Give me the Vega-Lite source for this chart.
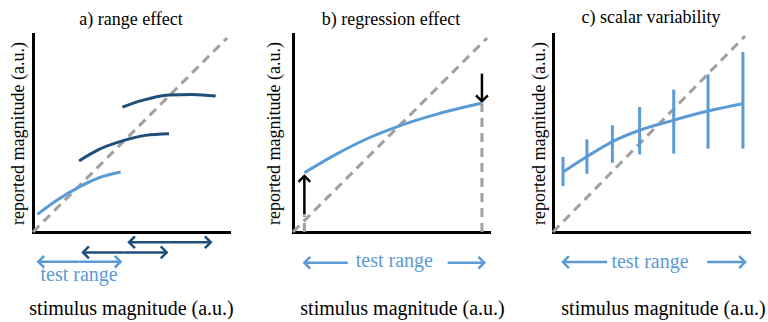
{
  "$schema": "https://vega.github.io/schema/vega-lite/v6.json",
  "padding": {"left": 9, "top": 8, "right": 5, "bottom": 5},
  "background": "white",
  "config": {
    "view": {"stroke": null},
    "font": "Liberation Serif",
    "axis": {"labels": false, "ticks": false, "grid": false, "domainColor": "black", "domainWidth": 3, "domainCap": "square", "titleFont": "Liberation Serif", "titleFontSize": 18, "titleFontWeight": "normal", "titleColor": "black"},
    "axisX": {"titlePadding": 66, "titleFontSize": 20},
    "axisY": {"titlePadding": 6},
    "title": {"font": "Liberation Serif", "fontSize": 18, "fontWeight": "normal", "offset": 3, "color": "black"}
  },
  "bounds": "flush",
  "spacing": 64,
  "hconcat": [
    {
      "width": 196, "height": 198,
      "title": "a) range effect",
      "layer": [
        {
          "data": {"values": [{"x": 0, "y": 0}, {"x": 0.99, "y": 0.98}]},
          "mark": {"type": "line", "color": "#a0a0a0", "strokeWidth": 3, "strokeDash": [9, 6]},
          "encoding": {
            "x": {"field": "x", "type": "quantitative", "scale": {"domain": [0, 1], "nice": false}, "axis": {"title": "stimulus magnitude (a.u.)"}},
            "y": {"field": "y", "type": "quantitative", "scale": {"domain": [0, 1], "nice": false}, "axis": {"title": "reported magnitude (a.u.)"}}
          }
        },
        {
          "data": {"values": [
            {"id": "c1", "c": "light", "x": 0.022, "y": 0.089}, {"id": "c1", "c": "light", "x": 0.116, "y": 0.157}, {"id": "c1", "c": "light", "x": 0.235, "y": 0.227}, {"id": "c1", "c": "light", "x": 0.337, "y": 0.274}, {"id": "c1", "c": "light", "x": 0.447, "y": 0.303},
            {"id": "c2", "c": "dark", "x": 0.235, "y": 0.359}, {"id": "c2", "c": "dark", "x": 0.337, "y": 0.417}, {"id": "c2", "c": "dark", "x": 0.456, "y": 0.460}, {"id": "c2", "c": "dark", "x": 0.575, "y": 0.488}, {"id": "c2", "c": "dark", "x": 0.694, "y": 0.496},
            {"id": "c3", "c": "dark", "x": 0.456, "y": 0.631}, {"id": "c3", "c": "dark", "x": 0.558, "y": 0.665}, {"id": "c3", "c": "dark", "x": 0.694, "y": 0.692}, {"id": "c3", "c": "dark", "x": 0.813, "y": 0.695}, {"id": "c3", "c": "dark", "x": 0.932, "y": 0.687}
          ]},
          "mark": {"type": "line", "strokeWidth": 3, "interpolate": "monotone"},
          "encoding": {
            "x": {"field": "x", "type": "quantitative"},
            "y": {"field": "y", "type": "quantitative"},
            "detail": {"field": "id"},
            "color": {"field": "c", "type": "nominal", "scale": {"domain": ["light", "dark", "black"], "range": ["#5b9bd5", "#1f4e79", "#000000"]}, "legend": null}
          }
        },
        {
          "data": {"values": [
            {"c": "light", "x": 0.237, "x2": 0.027, "y": -0.15, "y2": -0.15, "dir": "left"},
            {"c": "light", "x": 0.237, "x2": 0.447, "y": -0.15, "y2": -0.15, "dir": "right"},
            {"c": "dark", "x": 0.468, "x2": 0.255, "y": -0.103, "y2": -0.103, "dir": "left"},
            {"c": "dark", "x": 0.468, "x2": 0.682, "y": -0.103, "y2": -0.103, "dir": "right"},
            {"c": "dark", "x": 0.698, "x2": 0.49, "y": -0.052, "y2": -0.052, "dir": "left"},
            {"c": "dark", "x": 0.698, "x2": 0.907, "y": -0.052, "y2": -0.052, "dir": "right"}
          ]},
          "layer": [
            {
              "mark": {"type": "rule", "strokeWidth": 2.5},
              "encoding": {
                "x": {"field": "x", "type": "quantitative"}, "x2": {"field": "x2"},
                "y": {"field": "y", "type": "quantitative"}, "y2": {"field": "y2"},
                "color": {"field": "c", "type": "nominal", "scale": {"domain": ["light", "dark", "black"], "range": ["#5b9bd5", "#1f4e79", "#000000"]}, "legend": null}
              }
            },
            {
              "mark": {"type": "point", "filled": false, "strokeWidth": 2.5, "size": 140, "opacity": 1},
              "encoding": {
                "x": {"field": "x2", "type": "quantitative"},
                "y": {"field": "y2", "type": "quantitative"},
                "shape": {"field": "dir", "type": "nominal", "scale": {"domain": ["left", "right", "up", "down"], "range": ["M1,-1L0,0L1,1", "M-1,-1L0,0L-1,1", "M-1,1L0,0L1,1", "M-1,-1L0,0L1,-1"]}, "legend": null},
                "color": {"field": "c", "type": "nominal", "scale": {"domain": ["light", "dark", "black"], "range": ["#5b9bd5", "#1f4e79", "#000000"]}, "legend": null}
              }
            }
          ]
        },
        {
          "data": {"values": [{"x": 0.235, "y": -0.218, "t": "test range"}]},
          "mark": {"type": "text", "fontSize": 20, "color": "#5b9bd5", "font": "Liberation Serif", "baseline": "middle"},
          "encoding": {"x": {"field": "x", "type": "quantitative"}, "y": {"field": "y", "type": "quantitative"}, "text": {"field": "t"}}
        }
      ]
    },
    {
      "width": 196, "height": 198,
      "title": "b) regression effect",
      "layer": [
        {
          "data": {"values": [{"x": 0, "y": 0}, {"x": 0.99, "y": 0.98}]},
          "mark": {"type": "line", "color": "#a0a0a0", "strokeWidth": 3, "strokeDash": [9, 6]},
          "encoding": {
            "x": {"field": "x", "type": "quantitative", "scale": {"domain": [0, 1], "nice": false}, "axis": {"title": "stimulus magnitude (a.u.)", "titleX": 109}},
            "y": {"field": "y", "type": "quantitative", "scale": {"domain": [0, 1], "nice": false}, "axis": {"title": "reported magnitude (a.u.)", "titlePadding": 10}}
          }
        },
        {
          "data": {"values": [{"x": 0.058, "y": 0, "y2": 0.085}, {"x": 0.964, "y": 0, "y2": 0.65}]},
          "mark": {"type": "rule", "color": "#a0a0a0", "strokeWidth": 3, "strokeDash": [9, 6]},
          "encoding": {"x": {"field": "x", "type": "quantitative"}, "y": {"field": "y", "type": "quantitative"}, "y2": {"field": "y2"}}
        },
        {
          "data": {"values": [
            {"x": 0.058, "y": 0.299}, {"x": 0.219, "y": 0.392}, {"x": 0.389, "y": 0.476}, {"x": 0.526, "y": 0.530}, {"x": 0.730, "y": 0.594}, {"x": 0.959, "y": 0.650}
          ]},
          "mark": {"type": "line", "strokeWidth": 3, "interpolate": "monotone", "color": "#5b9bd5"},
          "encoding": {"x": {"field": "x", "type": "quantitative"}, "y": {"field": "y", "type": "quantitative"}}
        },
        {
          "data": {"values": [
            {"c": "black", "x": 0.058, "x2": 0.058, "y": 0.089, "y2": 0.283, "dir": "up"},
            {"c": "black", "x": 0.964, "x2": 0.964, "y": 0.8, "y2": 0.66, "dir": "down"},
            {"c": "light", "x": 0.279, "x2": 0.058, "y": -0.155, "y2": -0.155, "dir": "left"},
            {"c": "light", "x": 0.789, "x2": 0.976, "y": -0.155, "y2": -0.155, "dir": "right"}
          ]},
          "layer": [
            {
              "mark": {"type": "rule", "strokeWidth": 2.5},
              "encoding": {
                "x": {"field": "x", "type": "quantitative"}, "x2": {"field": "x2"},
                "y": {"field": "y", "type": "quantitative"}, "y2": {"field": "y2"},
                "color": {"field": "c", "type": "nominal", "scale": {"domain": ["light", "dark", "black"], "range": ["#5b9bd5", "#1f4e79", "#000000"]}, "legend": null}
              }
            },
            {
              "mark": {"type": "point", "filled": false, "strokeWidth": 2.5, "size": 140, "opacity": 1},
              "encoding": {
                "x": {"field": "x2", "type": "quantitative"},
                "y": {"field": "y2", "type": "quantitative"},
                "shape": {"field": "dir", "type": "nominal", "scale": {"domain": ["left", "right", "up", "down"], "range": ["M1,-1L0,0L1,1", "M-1,-1L0,0L-1,1", "M-1,1L0,0L1,1", "M-1,-1L0,0L1,-1"]}, "legend": null},
                "color": {"field": "c", "type": "nominal", "scale": {"domain": ["light", "dark", "black"], "range": ["#5b9bd5", "#1f4e79", "#000000"]}, "legend": null}
              }
            }
          ]
        },
        {
          "data": {"values": [{"x": 0.517, "y": -0.146, "t": "test range"}]},
          "mark": {"type": "text", "fontSize": 20, "color": "#5b9bd5", "font": "Liberation Serif", "baseline": "middle"},
          "encoding": {"x": {"field": "x", "type": "quantitative"}, "y": {"field": "y", "type": "quantitative"}, "text": {"field": "t"}}
        }
      ]
    },
    {
      "width": 196, "height": 198,
      "title": "c) scalar variability",
      "layer": [
        {
          "data": {"values": [{"x": 0, "y": 0}, {"x": 0.98, "y": 0.99}]},
          "mark": {"type": "line", "color": "#a0a0a0", "strokeWidth": 3, "strokeDash": [9, 6]},
          "encoding": {
            "x": {"field": "x", "type": "quantitative", "scale": {"domain": [0, 1], "nice": false}, "axis": {"title": "stimulus magnitude (a.u.)", "titleX": 110}},
            "y": {"field": "y", "type": "quantitative", "scale": {"domain": [0, 1], "nice": false}, "axis": {"title": "reported magnitude (a.u.)", "titlePadding": 5}}
          }
        },
        {
          "data": {"values": [
            {"x": 0.051, "lo": 0.232, "hi": 0.379}, {"x": 0.173, "lo": 0.294, "hi": 0.468}, {"x": 0.303, "lo": 0.350, "hi": 0.539}, {"x": 0.442, "lo": 0.392, "hi": 0.631},
            {"x": 0.616, "lo": 0.396, "hi": 0.719}, {"x": 0.791, "lo": 0.421, "hi": 0.796}, {"x": 0.969, "lo": 0.421, "hi": 0.909}
          ]},
          "mark": {"type": "rule", "color": "#5b9bd5", "strokeWidth": 3},
          "encoding": {"x": {"field": "x", "type": "quantitative"}, "y": {"field": "lo", "type": "quantitative"}, "y2": {"field": "hi"}}
        },
        {
          "data": {"values": [
            {"x": 0.051, "y": 0.303}, {"x": 0.170, "y": 0.379}, {"x": 0.306, "y": 0.458}, {"x": 0.442, "y": 0.514}, {"x": 0.612, "y": 0.564}, {"x": 0.791, "y": 0.611}, {"x": 0.966, "y": 0.648}
          ]},
          "mark": {"type": "line", "strokeWidth": 3, "interpolate": "monotone", "color": "#5b9bd5"},
          "encoding": {"x": {"field": "x", "type": "quantitative"}, "y": {"field": "y", "type": "quantitative"}}
        },
        {
          "data": {"values": [
            {"c": "light", "x": 0.276, "x2": 0.051, "y": -0.152, "y2": -0.152, "dir": "left"},
            {"c": "light", "x": 0.786, "x2": 0.98, "y": -0.152, "y2": -0.152, "dir": "right"}
          ]},
          "layer": [
            {
              "mark": {"type": "rule", "strokeWidth": 2.5},
              "encoding": {
                "x": {"field": "x", "type": "quantitative"}, "x2": {"field": "x2"},
                "y": {"field": "y", "type": "quantitative"}, "y2": {"field": "y2"},
                "color": {"field": "c", "type": "nominal", "scale": {"domain": ["light", "dark", "black"], "range": ["#5b9bd5", "#1f4e79", "#000000"]}, "legend": null}
              }
            },
            {
              "mark": {"type": "point", "filled": false, "strokeWidth": 2.5, "size": 140, "opacity": 1},
              "encoding": {
                "x": {"field": "x2", "type": "quantitative"},
                "y": {"field": "y2", "type": "quantitative"},
                "shape": {"field": "dir", "type": "nominal", "scale": {"domain": ["left", "right", "up", "down"], "range": ["M1,-1L0,0L1,1", "M-1,-1L0,0L-1,1", "M-1,1L0,0L1,1", "M-1,-1L0,0L1,-1"]}, "legend": null},
                "color": {"field": "c", "type": "nominal", "scale": {"domain": ["light", "dark", "black"], "range": ["#5b9bd5", "#1f4e79", "#000000"]}, "legend": null}
              }
            }
          ]
        },
        {
          "data": {"values": [{"x": 0.495, "y": -0.152, "t": "test range"}]},
          "mark": {"type": "text", "fontSize": 20, "color": "#5b9bd5", "font": "Liberation Serif", "baseline": "middle"},
          "encoding": {"x": {"field": "x", "type": "quantitative"}, "y": {"field": "y", "type": "quantitative"}, "text": {"field": "t"}}
        }
      ]
    }
  ]
}
